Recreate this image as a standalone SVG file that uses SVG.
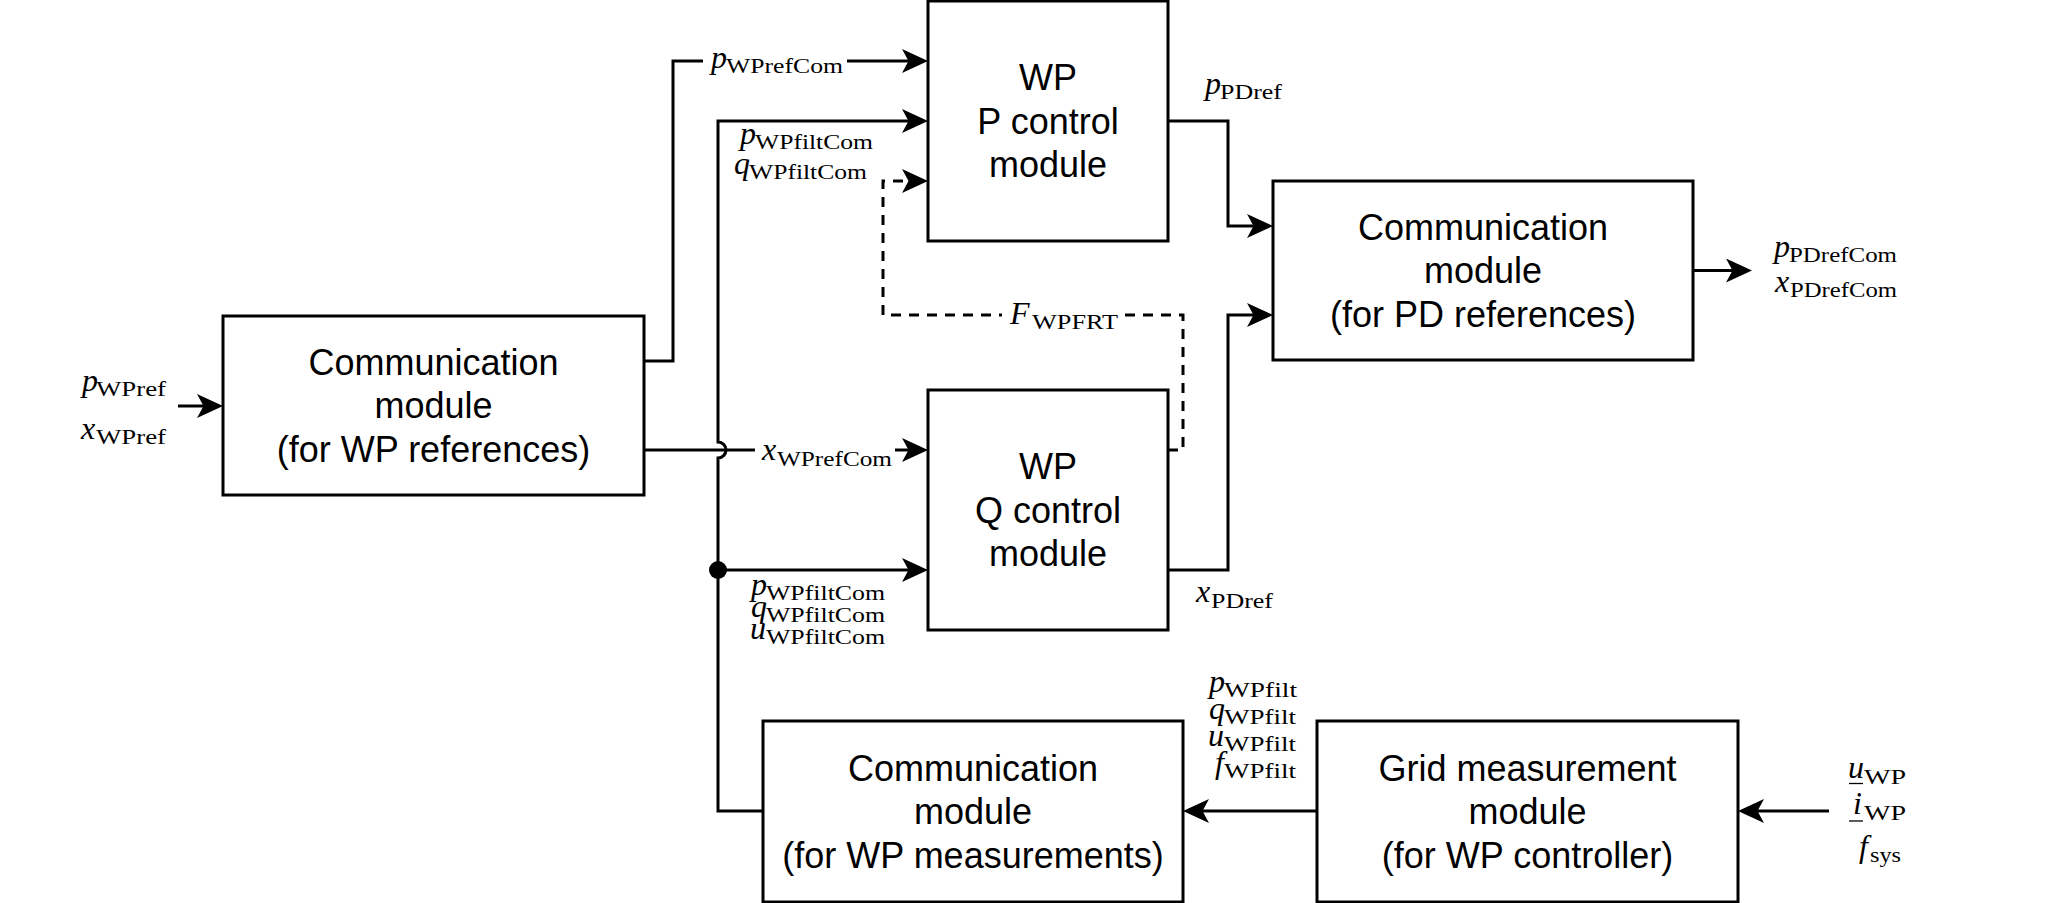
<svg xmlns="http://www.w3.org/2000/svg" width="2055" height="903" viewBox="0 0 2055 903">
<defs>
<style>
.box{fill:#fff;stroke:#000;stroke-width:3}
.bt{font-family:"Liberation Sans",Arial,sans-serif;font-size:36px;text-anchor:middle;fill:#000}
.ln{fill:none;stroke:#000;stroke-width:3}
.ar{marker-end:url(#arr)}
.dash{stroke-dasharray:10 8}
.m{font-family:"Liberation Serif","Times New Roman",serif;font-size:32px;font-style:italic}
.s{font-family:"Liberation Serif","Times New Roman",serif;font-size:21.5px;font-style:normal}
.lab{fill:#000}
.bg{fill:#fff}
.ul{stroke:#000;stroke-width:1.3}
</style>
<marker id="arr" markerUnits="userSpaceOnUse" markerWidth="26" markerHeight="24" viewBox="0 0 26 24" refX="20" refY="12" orient="auto"><path d="M26,12 L0,0 L6.5,12 L0,24 Z" fill="#000"/></marker>
</defs>
<rect x="0" y="0" width="2055" height="903" fill="#fff"/>

<g id="connectors">
<path class="ln ar" d="M178,406 H217"/>
<path class="ln ar" d="M644,361 H673 V61 H922"/>
<path class="ln ar" d="M763,811 H718 V458 A8,8 0 0 0 718,442 V121 H922"/>
<path class="ln ar" d="M718,570 H922"/>
<path class="ln ar" d="M644,450 H922"/>
<path class="ln ar dash" d="M1168,450 H1183 V315 H883 V181 H922"/>
<path class="ln ar" d="M1168,121 H1228 V226 H1267"/>
<path class="ln ar" d="M1168,570 H1228 V315 H1267"/>
<path class="ln ar" d="M1693,270.5 H1746"/>
<path class="ln ar" d="M1317,811 H1189"/>
<path class="ln ar" d="M1829,811 H1744"/>
<circle cx="718" cy="570" r="9" fill="#000"/>
</g>

<g id="node-comm-wp-ref">
<rect class="box" x="223" y="316" width="421" height="179"/>
<text class="bt" x="433.5" y="374.5">Communication</text>
<text class="bt" x="433.5" y="418">module</text>
<text class="bt" x="433.5" y="461.5">(for WP references)</text>
</g>

<g id="node-wp-p-control">
<rect class="box" x="928" y="1" width="240" height="240"/>
<text class="bt" x="1048" y="90">WP</text>
<text class="bt" x="1048" y="133.5">P control</text>
<text class="bt" x="1048" y="177">module</text>
</g>

<g id="node-wp-q-control">
<rect class="box" x="928" y="390" width="240" height="240"/>
<text class="bt" x="1048" y="479">WP</text>
<text class="bt" x="1048" y="522.5">Q control</text>
<text class="bt" x="1048" y="566">module</text>
</g>

<g id="node-comm-pd-ref">
<rect class="box" x="1273" y="181" width="420" height="179"/>
<text class="bt" x="1483" y="239.5">Communication</text>
<text class="bt" x="1483" y="283">module</text>
<text class="bt" x="1483" y="326.5">(for PD references)</text>
</g>

<g id="node-comm-wp-meas">
<rect class="box" x="763" y="721" width="420" height="181"/>
<text class="bt" x="973" y="780.5">Communication</text>
<text class="bt" x="973" y="824">module</text>
<text class="bt" x="973" y="867.5">(for WP measurements)</text>
</g>

<g id="node-grid-meas">
<rect class="box" x="1317" y="721" width="421" height="181"/>
<text class="bt" x="1527.5" y="780.5">Grid measurement</text>
<text class="bt" x="1527.5" y="824">module</text>
<text class="bt" x="1527.5" y="867.5">(for WP controller)</text>
</g>

<g id="labels" class="lab">
<rect class="bg" x="703" y="47" width="144" height="32"/>
<rect class="bg" x="755" y="437" width="140" height="32"/>
<rect class="bg" x="1002" y="301" width="119" height="34"/>

<text><tspan class="m" x="82" y="391">p</tspan><tspan class="s" x="96" y="396" textLength="70" lengthAdjust="spacingAndGlyphs">WPref</tspan></text>
<text><tspan class="m" x="81" y="439">x</tspan><tspan class="s" x="96" y="444" textLength="70" lengthAdjust="spacingAndGlyphs">WPref</tspan></text>

<text><tspan class="m" x="711" y="68">p</tspan><tspan class="s" x="726" y="73" textLength="117" lengthAdjust="spacingAndGlyphs">WPrefCom</tspan></text>

<text><tspan class="m" x="740" y="144">p</tspan><tspan class="s" x="755" y="149" textLength="118" lengthAdjust="spacingAndGlyphs">WPfiltCom</tspan></text>
<text><tspan class="m" x="734" y="174">q</tspan><tspan class="s" x="749" y="179" textLength="118" lengthAdjust="spacingAndGlyphs">WPfiltCom</tspan></text>

<text><tspan class="m" x="762" y="460">x</tspan><tspan class="s" x="777" y="466" textLength="115" lengthAdjust="spacingAndGlyphs">WPrefCom</tspan></text>

<text><tspan class="m" x="1010" y="324">F</tspan><tspan class="s" x="1032" y="329" textLength="86" lengthAdjust="spacingAndGlyphs">WPFRT</tspan></text>

<text><tspan class="m" x="751" y="595">p</tspan><tspan class="s" x="766" y="600" textLength="119" lengthAdjust="spacingAndGlyphs">WPfiltCom</tspan></text>
<text><tspan class="m" x="751" y="617">q</tspan><tspan class="s" x="766" y="622" textLength="119" lengthAdjust="spacingAndGlyphs">WPfiltCom</tspan></text>
<text><tspan class="m" x="750" y="639">u</tspan><tspan class="s" x="766" y="644" textLength="119" lengthAdjust="spacingAndGlyphs">WPfiltCom</tspan></text>

<text><tspan class="m" x="1205" y="94">p</tspan><tspan class="s" x="1220" y="99" textLength="62" lengthAdjust="spacingAndGlyphs">PDref</tspan></text>
<text><tspan class="m" x="1196" y="602">x</tspan><tspan class="s" x="1211" y="608" textLength="62" lengthAdjust="spacingAndGlyphs">PDref</tspan></text>

<text><tspan class="m" x="1774" y="257">p</tspan><tspan class="s" x="1789" y="262" textLength="108" lengthAdjust="spacingAndGlyphs">PDrefCom</tspan></text>
<text><tspan class="m" x="1775" y="292">x</tspan><tspan class="s" x="1790" y="297" textLength="107" lengthAdjust="spacingAndGlyphs">PDrefCom</tspan></text>

<text><tspan class="m" x="1209" y="692">p</tspan><tspan class="s" x="1224" y="697" textLength="73" lengthAdjust="spacingAndGlyphs">WPfilt</tspan></text>
<text><tspan class="m" x="1209" y="719">q</tspan><tspan class="s" x="1224" y="724" textLength="72" lengthAdjust="spacingAndGlyphs">WPfilt</tspan></text>
<text><tspan class="m" x="1208" y="746">u</tspan><tspan class="s" x="1224" y="751" textLength="72" lengthAdjust="spacingAndGlyphs">WPfilt</tspan></text>
<text><tspan class="m" x="1215" y="773">f</tspan><tspan class="s" x="1224" y="778" textLength="72" lengthAdjust="spacingAndGlyphs">WPfilt</tspan></text>

<text><tspan class="m" x="1848" y="778">u</tspan><tspan class="s" x="1864" y="784" textLength="42" lengthAdjust="spacingAndGlyphs">WP</tspan></text>
<line class="ul" x1="1849" y1="783.5" x2="1863" y2="783.5"/>
<text><tspan class="m" x="1853" y="814">i</tspan><tspan class="s" x="1864" y="820" textLength="42" lengthAdjust="spacingAndGlyphs">WP</tspan></text>
<line class="ul" x1="1849" y1="821" x2="1863" y2="821"/>
<text><tspan class="m" x="1859" y="857">f</tspan><tspan class="s" x="1870" y="862" textLength="31" lengthAdjust="spacingAndGlyphs">sys</tspan></text>
</g>
</svg>
